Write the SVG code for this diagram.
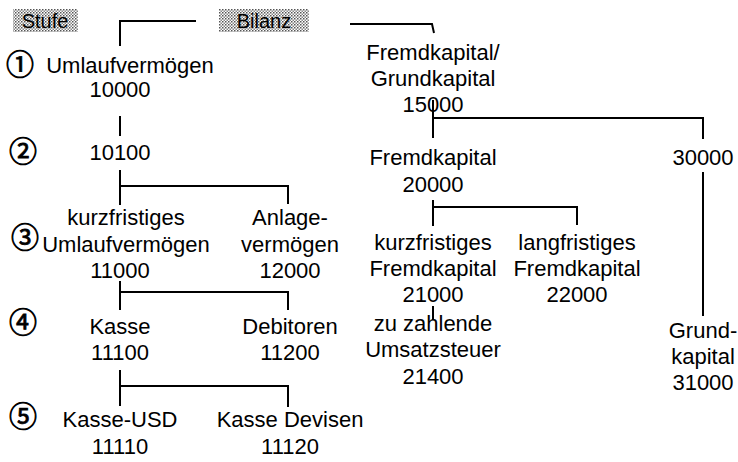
<svg xmlns="http://www.w3.org/2000/svg" width="738" height="462" viewBox="0 0 738 462">
<style>
text{font-family:"Liberation Sans",Arial,"Noto Sans CJK JP",sans-serif;font-size:22px;fill:#000;text-anchor:middle}
.c{font-family:"Noto Sans CJK JP","DejaVu Sans",sans-serif;font-size:28px;stroke:#000;stroke-width:0.8}
.h{font-size:20px}
.ln{stroke:#000;stroke-width:2;fill:none}
</style>
<defs>
<pattern id="dots" width="3" height="3" patternUnits="userSpaceOnUse">
<rect width="3" height="3" fill="#fff"/>
<rect width="1.5" height="1.5" fill="#555"/>
<rect x="1.5" y="1.5" width="1.5" height="1.5" fill="#888"/>
</pattern>
</defs>
<rect width="738" height="462" fill="#fff"/>
<g id="hdr-stufe"><rect x="13" y="9" width="65" height="23" fill="url(#dots)"/><text class="h" x="45" y="28">Stufe</text></g>
<g id="hdr-bilanz"><rect x="219" y="9" width="90" height="23" fill="url(#dots)"/><text class="h" x="264" y="28">Bilanz</text></g>
<g id="levels">
<text class="c" x="20" y="75">①</text>
<text class="c" x="23" y="162">②</text>
<text class="c" x="25" y="248">③</text>
<text class="c" x="23" y="333">④</text>
<text class="c" x="23" y="427">⑤</text>
</g>
<g id="connectors" class="ln">
<path class="ln" d="M196,21H120V46"/>
<path class="ln" d="M350,24H432L434,33"/>
<path class="ln" d="M120,116V136"/>
<path class="ln" d="M120,170V205M120,186H288V204"/>
<path class="ln" d="M120,281V310M120,292H288V310"/>
<path class="ln" d="M120,370V406M120,386H288V407"/>
<path class="ln" d="M433,100V138M433,118H703V139"/>
<path class="ln" d="M433,200V226M433,207H577V225"/>
<path class="ln" d="M433,306V320"/>
<path class="ln" d="M703,172V316"/>
</g>
<g id="n10000"><text x="130" y="73">Umlaufvermögen</text><text x="120" y="97">10000</text></g>
<g id="n10100"><text x="120" y="160">10100</text></g>
<g id="n11000"><text x="126" y="225">kurzfristiges</text><text x="126" y="252">Umlaufvermögen</text><text x="120" y="278">11000</text></g>
<g id="n12000"><text x="290" y="225">Anlage-</text><text x="290" y="252">vermögen</text><text x="290" y="278">12000</text></g>
<g id="n11100"><text x="120" y="334">Kasse</text><text x="120" y="360">11100</text></g>
<g id="n11200"><text x="290" y="334">Debitoren</text><text x="290" y="360">11200</text></g>
<g id="n11110"><text x="120" y="427">Kasse-USD</text><text x="120" y="454">11110</text></g>
<g id="n11120"><text x="290" y="427">Kasse Devisen</text><text x="290" y="454">11120</text></g>
<g id="n15000"><text x="433" y="60">Fremdkapital/</text><text x="433" y="86">Grundkapital</text><text x="433" y="112">15000</text></g>
<g id="n20000"><text x="433" y="165">Fremdkapital</text><text x="433" y="192">20000</text></g>
<g id="n30000"><text x="703" y="165">30000</text></g>
<g id="n21000"><text x="433" y="250">kurzfristiges</text><text x="433" y="276">Fremdkapital</text><text x="433" y="302">21000</text></g>
<g id="n22000"><text x="577" y="250">langfristiges</text><text x="577" y="276">Fremdkapital</text><text x="577" y="302">22000</text></g>
<g id="n21400"><text x="433" y="331">zu zahlende</text><text x="433" y="357">Umsatzsteuer</text><text x="433" y="384">21400</text></g>
<g id="n31000"><text x="703" y="338">Grund-</text><text x="703" y="364">kapital</text><text x="703" y="390">31000</text></g>
</svg>
